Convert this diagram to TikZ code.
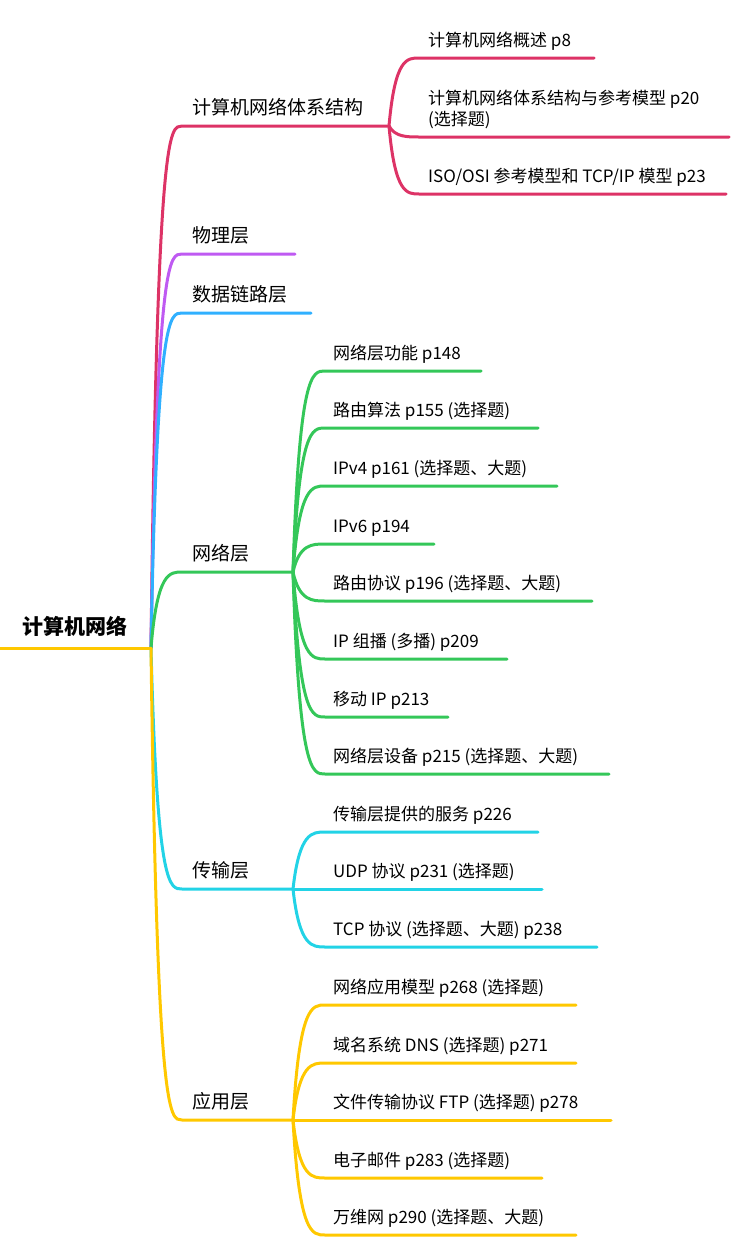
\documentclass[tikz,border=0pt]{standalone}
\usepackage{fontspec}
\setmainfont{Noto Sans CJK SC}
\usetikzlibrary{calc}
\definecolor{cred}{HTML}{DD3366}
\definecolor{cpurple}{HTML}{BF5AF2}
\definecolor{cblue}{HTML}{30B0FF}
\definecolor{cgreen}{HTML}{34C759}
\definecolor{ccyan}{HTML}{22D3E6}
\definecolor{cyellow}{HTML}{FFC800}
\tikzset{
  link/.style={line width=3pt, line cap=round},
  rootlabel/.style={font=\fontsize{21}{25}\selectfont\bfseries, anchor=base west, inner sep=0pt},
  lone/.style={font=\fontsize{19}{23}\selectfont, anchor=base west, inner sep=0pt},
  ltwo/.style={font=\fontsize{17}{21}\selectfont, anchor=base west, inner sep=0pt, align=left},
}
% #1 colour, #2 fork, #3 start of underline, #4 end of underline
\newcommand\mybranch[4]{%
  \draw[link,#1] (#2) .. controls ($(#2|-#3)!0.2!(#3)$) and ($(#2|-#3)!0.6!(#3)$) .. (#3) -- (#4);}
\begin{document}
\begin{tikzpicture}[x=1pt,y=-1pt]
\useasboundingbox (0,0) rectangle (737,1245);
% root
\coordinate (r0) at (0,648);
\coordinate (rf) at (151,648);
\node[rootlabel] (root) at (22,634) {计算机网络};
% level 1 coordinates
\coordinate (aS) at (182,126);  \coordinate (aF) at (389,126);
\coordinate (bS) at (182,254);  \coordinate (bE) at (295,254);
\coordinate (cS) at (182,313);  \coordinate (cE) at (311,313);
\coordinate (dS) at (182,572);  \coordinate (dF) at (293,572);
\coordinate (eS) at (182,889);  \coordinate (eF) at (293,889);
\coordinate (fS) at (182,1120); \coordinate (fF) at (293,1120);
\node[lone] (a) at (192,114) {计算机网络体系结构};
\node[lone] (b) at (192,242) {物理层};
\node[lone] (c) at (192,301) {数据链路层};
\node[lone] (d) at (192,560) {网络层};
\node[lone] (e) at (192,877) {传输层};
\node[lone] (f) at (192,1108) {应用层};
\mybranch{cred}{rf}{aS}{aF}
\mybranch{cpurple}{rf}{bS}{bE}
\mybranch{cblue}{rf}{cS}{cE}
\mybranch{cgreen}{rf}{dS}{dF}
\mybranch{ccyan}{rf}{eS}{eF}
\mybranch{cyellow}{rf}{fS}{fF}
\draw[link,cyellow] (r0) -- (rf);
% children of a
\coordinate (a1S) at (419,58);  \coordinate (a1E) at (594,58);
\coordinate (a2S) at (419,137); \coordinate (a2E) at (729,137);
\coordinate (a3S) at (419,194); \coordinate (a3E) at (726,194);
\node[ltwo] (a1) at (428,46) {计算机网络概述 p8};
\node[ltwo] (a2) at (428,125) {计算机网络体系结构与参考模型 p20\\(选择题)};
\node[ltwo] (a3) at (428,182) {ISO/OSI 参考模型和 TCP/IP 模型 p23};
\mybranch{cred}{aF}{a1S}{a1E}
\mybranch{cred}{aF}{a2S}{a2E}
\mybranch{cred}{aF}{a3S}{a3E}
% children of d
\coordinate (d1S) at (325,371); \coordinate (d1E) at (481,371);
\coordinate (d2S) at (325,428); \coordinate (d2E) at (538,428);
\coordinate (d3S) at (325,486); \coordinate (d3E) at (557,486);
\coordinate (d4S) at (325,544); \coordinate (d4E) at (434,544);
\coordinate (d5S) at (325,601); \coordinate (d5E) at (592,601);
\coordinate (d6S) at (325,659); \coordinate (d6E) at (507,659);
\coordinate (d7S) at (325,717); \coordinate (d7E) at (448,717);
\coordinate (d8S) at (325,774); \coordinate (d8E) at (609,774);
\node[ltwo] (d1) at (333,359) {网络层功能 p148};
\node[ltwo] (d2) at (333,416) {路由算法 p155 (选择题)};
\node[ltwo] (d3) at (333,474) {IPv4 p161 (选择题、大题)};
\node[ltwo] (d4) at (333,532) {IPv6 p194};
\node[ltwo] (d5) at (333,589) {路由协议 p196 (选择题、大题)};
\node[ltwo] (d6) at (333,647) {IP 组播 (多播) p209};
\node[ltwo] (d7) at (333,705) {移动 IP p213};
\node[ltwo] (d8) at (333,762) {网络层设备 p215 (选择题、大题)};
\foreach \i in {1,...,8} {\mybranch{cgreen}{dF}{d\i S}{d\i E}}
% children of e
\coordinate (e1S) at (325,832); \coordinate (e1E) at (538,832);
\coordinate (e2S) at (325,889); \coordinate (e2E) at (542,889);
\coordinate (e3S) at (325,947); \coordinate (e3E) at (597,947);
\node[ltwo] (e1) at (333,820) {传输层提供的服务 p226};
\node[ltwo] (e2) at (333,877) {UDP 协议 p231 (选择题)};
\node[ltwo] (e3) at (333,935) {TCP 协议 (选择题、大题) p238};
\foreach \i in {1,2,3} {\mybranch{ccyan}{eF}{e\i S}{e\i E}}
% children of f
\coordinate (f1S) at (325,1005); \coordinate (f1E) at (576,1005);
\coordinate (f2S) at (325,1063); \coordinate (f2E) at (576,1063);
\coordinate (f3S) at (325,1120); \coordinate (f3E) at (611,1120);
\coordinate (f4S) at (325,1178); \coordinate (f4E) at (542,1178);
\coordinate (f5S) at (325,1235); \coordinate (f5E) at (576,1235);
\node[ltwo] (f1) at (333,993) {网络应用模型 p268 (选择题)};
\node[ltwo] (f2) at (333,1051) {域名系统 DNS (选择题) p271};
\node[ltwo] (f3) at (333,1108) {文件传输协议 FTP (选择题) p278};
\node[ltwo] (f4) at (333,1166) {电子邮件 p283 (选择题)};
\node[ltwo] (f5) at (333,1223) {万维网 p290 (选择题、大题)};
\foreach \i in {1,...,5} {\mybranch{cyellow}{fF}{f\i S}{f\i E}}
\end{tikzpicture}
\end{document}
